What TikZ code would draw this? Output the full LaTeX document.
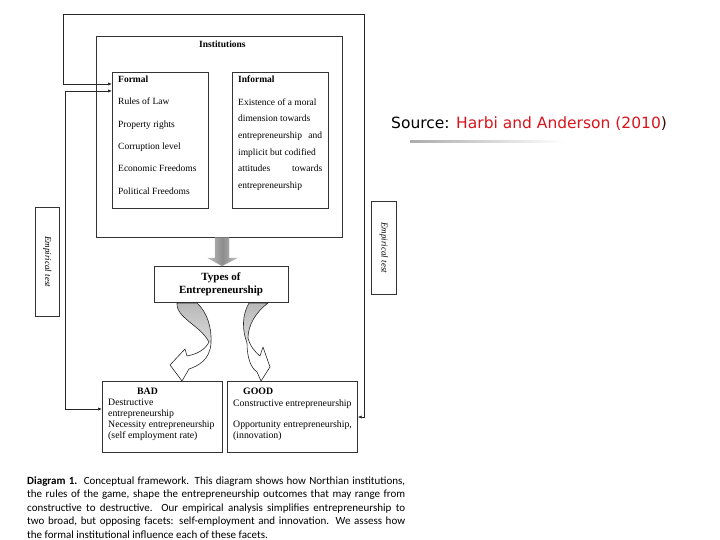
\documentclass[tikz,border=0pt]{standalone}
\usepackage{fontspec}
\setmainfont{Liberation Serif}
\newfontfamily\capfont{Carlito}
\newfontfamily\srcfont{DejaVu Sans}
\usetikzlibrary{arrows.meta}
\definecolor{srcred}{HTML}{D8141C}
\definecolor{srcdark}{HTML}{3A0A0A}
\begin{document}
\begin{tikzpicture}[x=1pt,y=-1pt,
  box/.style={draw=black!80, line width=0.7pt, inner sep=0pt, anchor=north west},
  txt/.style={anchor=base west, inner sep=0pt, font=\fontsize{9.5}{11}\selectfont},
  btxt/.style={anchor=base west, inner sep=0pt, font=\fontsize{9.8}{11}\selectfont},
  hd/.style={anchor=base west, inner sep=0pt, font=\bfseries\fontsize{9.5}{11}\selectfont},
  emp/.style={inner sep=0pt, rotate=-90, font=\itshape\fontsize{9}{10}\selectfont},
  captxt/.style={anchor=base west, inner sep=0pt, font=\capfont\fontsize{11}{12}\selectfont},
  conn/.style={draw=black!85, line width=0.7pt},
  endtips/.style={{Latex[length=4pt,width=3.2pt]}-{Latex[length=4pt,width=3.2pt]}},
  curv/.style={draw=black!85, line width=0.6pt, line join=round}
]
\useasboundingbox (0,0) rectangle (720,540);

% boxes
\node[box, minimum width=246pt, minimum height=201pt] (inst) at (96,36) {};
\node[box, minimum width=96pt, minimum height=136pt] (formal) at (112,72) {};
\node[box, minimum width=96pt, minimum height=136pt] (informal) at (232,72) {};
\node[box, minimum width=134pt, minimum height=36pt] (types) at (154,266) {};
\node[box, minimum width=120pt, minimum height=71pt] (bad) at (102,381) {};
\node[box, minimum width=130pt, minimum height=71pt] (good) at (227,381) {};
\node[box, minimum width=24pt, minimum height=109pt] (empL) at (35,207) {};
\node[box, minimum width=25pt, minimum height=93pt] (empR) at (371,201) {};

% texts
\node[hd] (tinst) at (199,48) {Institutions};
\node[hd] (tformal) at (118,83) {Formal};
\node[txt] (f1) at (118,105) {Rules of Law};
\node[txt] (f2) at (118,128) {Property rights};
\node[txt] (f3) at (118,150) {Corruption level};
\node[txt] (f4) at (118,172) {Economic Freedoms};
\node[txt] (f5) at (118,195) {Political Freedoms};

\node[hd] (tinformal) at (238,83) {Informal};
\node[txt] (i1) at (238,106) {Existence of a moral};
\node[txt] (i2) at (238,122) {dimension towards};
\node[txt] (i3) at (238,139) {\makebox[84pt][s]{entrepreneurship and}};
\node[txt] (i4) at (238,156) {implicit but codified};
\node[txt] (i5) at (238,172) {\makebox[84pt][s]{attitudes towards}};
\node[txt] (i6) at (238,189) {entrepreneurship};

\node[inner sep=0pt, align=center, font=\bfseries\fontsize{11}{13}\selectfont] (ttypes) at (221,284) {Types of\\Entrepreneurship};

\node[btxt, font=\bfseries\fontsize{9.8}{11}\selectfont] (tbad) at (137,394) {BAD};
\node[btxt] (b1) at (108,405) {Destructive};
\node[btxt] (b2) at (108,416) {entrepreneurship};
\node[btxt] (b3) at (108,427) {Necessity entrepreneurship};
\node[btxt] (b4) at (108,438) {(self employment rate)};

\node[btxt, font=\bfseries\fontsize{9.8}{11}\selectfont] (tgood) at (243,394) {GOOD};
\node[btxt] (g1) at (233,406) {Constructive entrepreneurship};
\node[btxt] (g2) at (233,427) {Opportunity entrepreneurship,};
\node[btxt] (g3) at (233,438) {(innovation)};

\node[emp] (eL) at (empL.center) {Empirical test};
\node[emp] (eR) at (empR.center) {Empirical test};

% connectors
\coordinate (a1) at (63,84);
\coordinate (a2) at (63,14);
\coordinate (a3) at (364,14);
\coordinate (a4) at (364,417);
\draw[conn, endtips] (formal.west |- a1) -- (a1) -- (a2) -- (a3) -- (a4) -- (good.east |- a4);
\coordinate (b1c) at (65,91);
\coordinate (b2c) at (65,409);
\draw[conn, endtips] (formal.west |- b1c) -- (b1c) -- (b2c) -- (bad.west |- b2c);

% big gray arrow
\shade[left color=gray!50, right color=gray!50, middle color=gray!90, draw=gray!60, line width=0.4pt]
  (215,237.5) -- (229,237.5) -- (229,258) -- (237,258) -- (222,266) -- (208,258) -- (215,258) -- cycle;

% left curved arrow
\shade[top color=gray!55, bottom color=gray!30]
  (177,303) -- (197,303) .. controls (207,312) and (212,328) .. (211,343)
  -- (209,342) .. controls (200,325) and (176,318) .. (177,303) -- cycle;
\draw[curv] (177,303) -- (197,303) .. controls (207,312) and (212,328) .. (211,343)
  .. controls (210,360) and (198,366) .. (189,369) -- (182,381) -- (170,365) -- (185,349)
  -- (187,356) .. controls (197,354) and (205,350) .. (209,342)
  .. controls (200,325) and (176,318) .. (177,303) -- cycle;

% right curved arrow
\shade[top color=gray!55, bottom color=gray!30]
  (249,303) -- (268,303) .. controls (256,312) and (248,325) .. (248,338)
  -- (247,343) .. controls (242,330) and (242,315) .. (249,303) -- cycle;
\draw[curv] (249,303) -- (268,303) .. controls (256,312) and (248,325) .. (248,338)
  .. controls (250,346) and (255,352) .. (260,356) -- (263,347) -- (270,367) -- (261,381)
  -- (257,372) .. controls (251,368) and (247,358) .. (247,343)
  .. controls (242,330) and (242,315) .. (249,303) -- cycle;

% source
\node[anchor=base west, inner sep=0pt, font=\srcfont\fontsize{15.5}{18}\selectfont] (src) at (391,129)
  {Source: \textcolor{srcred}{Harbi and Anderson (2010}\textcolor{srcdark}{)}};
\shade[left color=gray!65, right color=white] (410,140.5) rectangle (565,142.5);

% caption
\node[captxt] (c1) at (27,484) {\makebox[378pt][s]{\textbf{Diagram 1.}\ \ Conceptual framework. This diagram shows how Northian institutions,}};
\node[captxt] (c2) at (27,497.5) {\makebox[378pt][s]{the rules of the game, shape the entrepreneurship outcomes that may range from}};
\node[captxt] (c3) at (27,511) {\makebox[378pt][s]{constructive to destructive. Our empirical analysis simplifies entrepreneurship to}};
\node[captxt] (c4) at (27,524.5) {\makebox[378pt][s]{two broad, but opposing facets: self-employment and innovation. We assess how}};
\node[captxt] (c5) at (27,538) {the formal institutional influence each of these facets.};
\end{tikzpicture}
\end{document}
